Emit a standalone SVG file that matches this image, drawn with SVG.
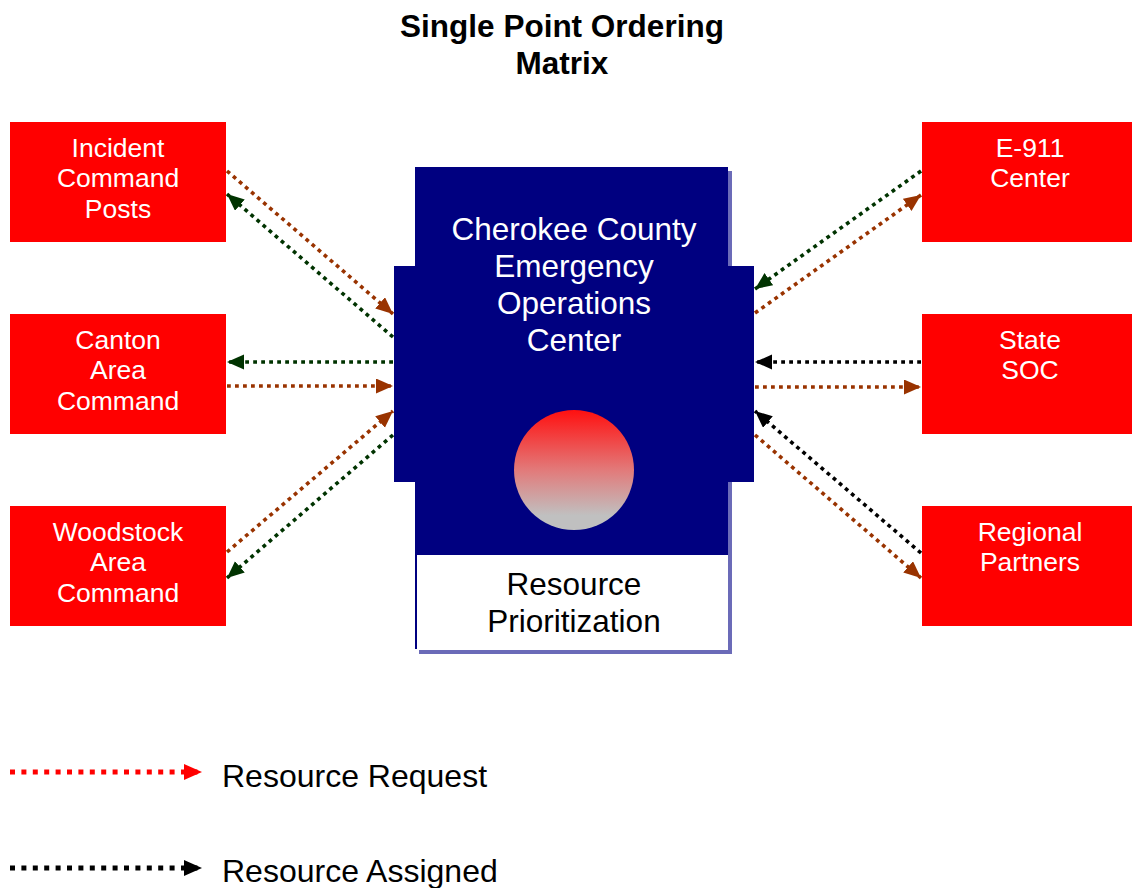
<svg xmlns="http://www.w3.org/2000/svg" width="1132" height="888" viewBox="0 0 1132 888">
<defs>
<style>
.t{font-family:"Liberation Sans",Arial,sans-serif;}
.box{fill:#ff0000;}
.bt{font-family:"Liberation Sans",Arial,sans-serif;font-size:26.5px;fill:#fff;text-anchor:middle;}
.ln{fill:none;stroke-width:3.6;stroke-dasharray:3.8 4.2;}
.req{stroke:#993300;}
.asg{stroke:#003300;}
.blk{stroke:#000;}
</style>
<marker id="mReq" markerUnits="userSpaceOnUse" markerWidth="18" markerHeight="16" refX="17" refY="7.5" orient="auto"><path d="M0,0 L17,7.5 L0,15 z" fill="#993300"/></marker>
<marker id="mAsg" markerUnits="userSpaceOnUse" markerWidth="18" markerHeight="16" refX="17" refY="7.5" orient="auto"><path d="M0,0 L17,7.5 L0,15 z" fill="#003300"/></marker>
<marker id="mBlk" markerUnits="userSpaceOnUse" markerWidth="18" markerHeight="16" refX="17" refY="7.5" orient="auto"><path d="M0,0 L17,7.5 L0,15 z" fill="#000"/></marker>
<marker id="mLR" markerUnits="userSpaceOnUse" markerWidth="19" markerHeight="17" refX="18" refY="8" orient="auto"><path d="M0,0 L18,8 L0,16 z" fill="#ff0000"/></marker>
<marker id="mLB" markerUnits="userSpaceOnUse" markerWidth="19" markerHeight="17" refX="18" refY="8" orient="auto"><path d="M0,0 L18,8 L0,16 z" fill="#000"/></marker>
<linearGradient id="ball" x1="0" y1="0" x2="0" y2="1">
<stop offset="0" stop-color="#ff1010"/>
<stop offset="0.5" stop-color="#e27a7a"/>
<stop offset="0.88" stop-color="#c0c0c0"/>
<stop offset="1" stop-color="#c0c0c0"/>
</linearGradient>
</defs>
<rect width="1132" height="888" fill="#fff"/>

<text class="t" x="562" y="37" font-size="31.5" font-weight="bold" text-anchor="middle">Single Point Ordering</text>
<text class="t" x="562" y="74" font-size="31.5" font-weight="bold" text-anchor="middle">Matrix</text>

<g id="eoc">
<rect x="419" y="171" width="313" height="483" fill="#6b6bb8"/>
<rect x="415" y="167" width="313" height="483" fill="#fff"/>
<rect x="415" y="167" width="313" height="388" fill="#000080"/>
<rect x="394" y="266" width="360" height="216" fill="#000080"/>
<line x1="416" y1="555" x2="416" y2="649" stroke="#000080" stroke-width="2"/>
<text class="t" x="574" y="240" font-size="31.5" fill="#fff" text-anchor="middle">Cherokee County</text>
<text class="t" x="574" y="277" font-size="31.5" fill="#fff" text-anchor="middle">Emergency</text>
<text class="t" x="574" y="314" font-size="31.5" fill="#fff" text-anchor="middle">Operations</text>
<text class="t" x="574" y="351" font-size="31.5" fill="#fff" text-anchor="middle">Center</text>
<circle cx="574" cy="470" r="60" fill="url(#ball)"/>
<text class="t" x="574" y="595" font-size="31.5" fill="#000" text-anchor="middle">Resource</text>
<text class="t" x="574" y="632" font-size="31.5" fill="#000" text-anchor="middle">Prioritization</text>
</g>

<g id="icp">
<rect class="box" x="10" y="122" width="216" height="120"/>
<text class="bt" x="118" y="157">Incident</text>
<text class="bt" x="118" y="187">Command</text>
<text class="bt" x="118" y="218">Posts</text>
</g>
<g id="canton">
<rect class="box" x="10" y="314" width="216" height="120"/>
<text class="bt" x="118" y="349">Canton</text>
<text class="bt" x="118" y="379">Area</text>
<text class="bt" x="118" y="410">Command</text>
</g>
<g id="woodstock">
<rect class="box" x="10" y="506" width="216" height="120"/>
<text class="bt" x="118" y="541">Woodstock</text>
<text class="bt" x="118" y="571">Area</text>
<text class="bt" x="118" y="602">Command</text>
</g>
<g id="e911">
<rect class="box" x="922" y="122" width="210" height="120"/>
<text class="bt" x="1030" y="157">E-911</text>
<text class="bt" x="1030" y="187">Center</text>
</g>
<g id="soc">
<rect class="box" x="922" y="314" width="210" height="120"/>
<text class="bt" x="1030" y="349">State</text>
<text class="bt" x="1030" y="379">SOC</text>
</g>
<g id="regional">
<rect class="box" x="922" y="506" width="210" height="120"/>
<text class="bt" x="1030" y="541">Regional</text>
<text class="bt" x="1030" y="571">Partners</text>
</g>

<g id="connectors">
<line class="ln req" x1="227" y1="171" x2="393" y2="314" marker-end="url(#mReq)"/>
<line class="ln asg" x1="393" y1="337" x2="227" y2="194" marker-end="url(#mAsg)"/>
<line class="ln asg" x1="393" y1="362" x2="227" y2="362" marker-end="url(#mAsg)"/>
<line class="ln req" x1="227" y1="386" x2="393" y2="386" marker-end="url(#mReq)"/>
<line class="ln req" x1="227" y1="552" x2="393" y2="411" marker-end="url(#mReq)"/>
<line class="ln asg" x1="393" y1="435" x2="227" y2="578" marker-end="url(#mAsg)"/>

<line class="ln asg" x1="921" y1="171" x2="755" y2="289" marker-end="url(#mAsg)"/>
<line class="ln req" x1="755" y1="313" x2="921" y2="195" marker-end="url(#mReq)"/>
<line class="ln blk" x1="921" y1="362" x2="755" y2="362" marker-end="url(#mBlk)"/>
<line class="ln req" x1="755" y1="387" x2="921" y2="387" marker-end="url(#mReq)"/>
<line class="ln blk" x1="921" y1="553" x2="755" y2="411" marker-end="url(#mBlk)"/>
<line class="ln req" x1="755" y1="435" x2="921" y2="578" marker-end="url(#mReq)"/>
</g>

<g id="legend">
<line x1="10" y1="772" x2="202" y2="772" stroke="#ff0000" stroke-width="5" stroke-dasharray="5 6.4" marker-end="url(#mLR)"/>
<text class="t" x="222" y="787" font-size="32" fill="#000">Resource Request</text>
<line x1="10" y1="868" x2="202" y2="868" stroke="#000" stroke-width="5" stroke-dasharray="5 6.4" marker-end="url(#mLB)"/>
<text class="t" x="222" y="882" font-size="32" fill="#000">Resource Assigned</text>
</g>
</svg>
